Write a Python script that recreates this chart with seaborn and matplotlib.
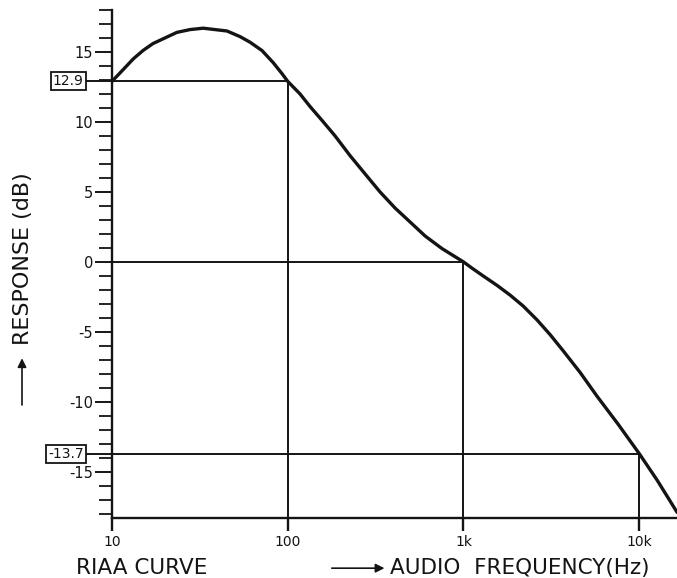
import numpy as np
import pandas as pd
import matplotlib.pyplot as plt
import seaborn as sns
from matplotlib.ticker import FixedLocator, MultipleLocator, NullLocator

# RIAA playback curve
freq_hz = [10, 11.7, 13.2, 15.0, 17.1, 20.0, 23.4, 27.8, 33.0, 38.6, 45.1, 53.5,
           61.0, 71.4, 82.5, 92.8, 100, 117.5, 134, 157, 186, 226, 275, 335,
           408, 497, 605, 755, 1000, 1119, 1293, 1553, 1841, 2184, 2624, 3112,
           3690, 4610, 5754, 7586, 10000, 12650, 16430]
response_db = [12.9, 13.8, 14.5, 15.1, 15.6, 16.0, 16.4, 16.6, 16.7, 16.6, 16.5,
               16.1, 15.7, 15.1, 14.25, 13.45, 12.9, 12.0, 11.1, 10.1, 9.0, 7.6,
               6.3, 5.0, 3.85, 2.85, 1.85, 0.95, 0.0, -0.45, -1.0, -1.68, -2.37,
               -3.15, -4.15, -5.2, -6.35, -7.9, -9.6, -11.6, -13.7, -15.6, -17.9]

# marked reference points
ref_freqs = [100, 1000, 10000]
ref_levels = [12.9, 0.0, -13.7]

x_ticks = [10, 100, 1000, 10000]
x_tick_labels = ["10", "100", "1k", "10k"]
y_ticks = [-15, -10, -5, 0, 5, 10, 15]

X_MIN, X_MAX = 10, 16400
Y_MIN, Y_MAX = -18.3, 18


def main():
    sns.set_theme(style="white")
    plt.rcParams["font.family"] = ["DejaVu Sans"]
    ink = "#141414"

    fig = plt.figure(figsize=(6.77, 5.78), dpi=100)
    ax = fig.add_axes([0.1654, 0.1038, 0.8346, 0.8789])

    df = pd.DataFrame({"freq": freq_hz, "db": response_db})
    sns.lineplot(data=df, x="freq", y="db", color=ink, lw=2.4, sort=False,
                 ax=ax, solid_joinstyle="round", solid_capstyle="round")

    ax.set_xscale("log")
    ax.set_xlim(X_MIN, X_MAX)
    ax.set_ylim(Y_MIN, Y_MAX)

    for f, lv in zip(ref_freqs, ref_levels):
        ax.hlines(lv, X_MIN, f, color=ink, lw=1.4)
        ax.vlines(f, Y_MIN, lv, color=ink, lw=1.4)
        if lv != 0:
            ax.plot([-0.05, 0], [lv, lv], color=ink, lw=1.4, clip_on=False,
                    transform=ax.get_yaxis_transform())
            ax.text(-0.05, lv, f"{lv:.1f}", transform=ax.get_yaxis_transform(),
                    ha="right", va="center", fontsize=10, color=ink,
                    bbox=dict(boxstyle="square,pad=0.15", fc="white", ec=ink, lw=1.3))

    sns.despine(ax=ax)
    for side in ["left", "bottom"]:
        ax.spines[side].set_color(ink)
        ax.spines[side].set_linewidth(1.7)

    ax.xaxis.set_major_locator(FixedLocator(x_ticks))
    ax.xaxis.set_minor_locator(NullLocator())
    ax.set_xticklabels(x_tick_labels)
    ax.yaxis.set_major_locator(FixedLocator(y_ticks))
    ax.yaxis.set_minor_locator(MultipleLocator(1))
    ax.set_yticklabels([str(v) for v in y_ticks])

    ax.tick_params(axis="x", which="major", direction="out", length=9, width=1.7,
                   color=ink, labelsize=10, labelcolor=ink, pad=3, bottom=True)
    ax.tick_params(axis="y", which="major", direction="out", length=12.5, width=1.4,
                   color=ink, labelsize=10.5, labelcolor=ink, pad=1, left=True)
    ax.tick_params(axis="y", which="minor", direction="out", length=9.5, width=1.3,
                   color=ink, left=True)
    ax.set_xlabel("")
    ax.set_ylabel("")
    ax.grid(False)

    # axis titles with arrows, as lettered on the original sheet
    fig.text(0.034, 0.553, "RESPONSE (dB)", rotation=90, ha="center", va="center",
             fontsize=16, color=ink)
    fig.add_artist(plt.Line2D([0.0325, 0.0325], [0.300, 0.37], color=ink, lw=1.2))
    ax.annotate("", xy=(0.0325, 0.385), xytext=(0.0325, 0.36), xycoords="figure fraction",
                arrowprops=dict(arrowstyle="-|>", color=ink, lw=1.2, mutation_scale=13))

    fig.text(0.112, 0.017, "RIAA CURVE", ha="left", va="center", fontsize=15.5, color=ink)
    ax.annotate("", xy=(0.572, 0.017), xytext=(0.486, 0.017), xycoords="figure fraction",
                arrowprops=dict(arrowstyle="-|>", color=ink, lw=1.2, mutation_scale=13))
    fig.text(0.576, 0.017, "AUDIO  FREQUENCY(Hz)", ha="left", va="center",
             fontsize=15.5, color=ink)

    fig.savefig("out.png", dpi=100, facecolor="white")


if __name__ == "__main__":
    main()
